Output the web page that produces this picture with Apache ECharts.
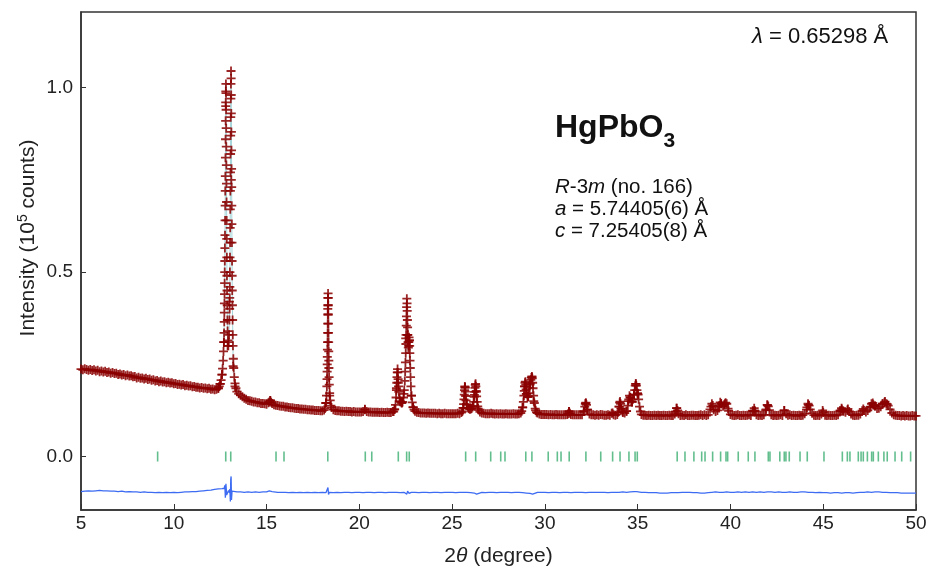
<!DOCTYPE html>
<html><head><meta charset="utf-8">
<script src="https://cdn.jsdelivr.net/npm/echarts@6/dist/echarts.min.js"></script>
<style>html,body{margin:0;padding:0;background:#fff}#c{width:930px;height:572px}</style>
</head><body><div id="c"></div>
<script>
// ---- Observed intensity (10^5 counts) on a 0.1 deg grid from 5.0 to 50.0 ----
const obsStart = 5.0, obsStep = 0.1;
const obsGrid = [
0.237,0.235,0.238,0.236,0.234,0.236,0.233,0.235,0.232,0.234,
0.230,0.232,0.229,0.231,0.228,0.229,0.226,0.228,0.225,0.226,
0.222,0.224,0.221,0.222,0.219,0.221,0.218,0.219,0.216,0.217,
0.213,0.215,0.212,0.213,0.210,0.212,0.209,0.210,0.207,0.208,
0.205,0.206,0.203,0.205,0.202,0.203,0.200,0.201,0.199,0.200,
0.197,0.198,0.195,0.196,0.194,0.195,0.192,0.193,0.191,0.192,
0.189,0.190,0.188,0.188,0.186,0.187,0.185,0.186,0.184,0.185,
0.182,0.183,0.181,0.182,0.185,0.197,0.222,0.310,0.960,0.300,
0.420,0.750,0.245,0.190,0.176,0.170,0.166,0.162,0.158,0.155,
0.152,0.151,0.150,0.148,0.148,0.146,0.146,0.144,0.144,0.143,
0.142,0.146,0.152,0.144,0.140,0.139,0.138,0.137,0.136,0.136,
0.134,0.134,0.133,0.132,0.132,0.131,0.130,0.130,0.129,0.129,
0.128,0.128,0.127,0.127,0.126,0.126,0.125,0.125,0.125,0.124,
0.124,0.126,0.145,0.400,0.165,0.133,0.127,0.125,0.124,0.124,
0.123,0.123,0.122,0.123,0.122,0.122,0.121,0.122,0.121,0.121,
0.121,0.121,0.122,0.127,0.122,0.121,0.121,0.120,0.120,0.120,
0.120,0.119,0.120,0.119,0.119,0.120,0.119,0.119,0.122,0.128,
0.185,0.200,0.150,0.146,0.170,0.320,0.330,0.315,0.165,0.133,
0.123,0.120,0.119,0.118,0.118,0.118,0.117,0.118,0.117,0.117,
0.117,0.117,0.116,0.117,0.116,0.116,0.117,0.116,0.116,0.116,
0.116,0.116,0.116,0.117,0.116,0.119,0.132,0.188,0.140,0.130,
0.129,0.134,0.167,0.175,0.130,0.121,0.118,0.117,0.116,0.116,
0.116,0.117,0.116,0.115,0.116,0.115,0.116,0.115,0.115,0.116,
0.115,0.115,0.115,0.116,0.115,0.115,0.116,0.118,0.133,0.190,
0.170,0.163,0.195,0.215,0.150,0.125,0.118,0.115,0.114,0.114,
0.114,0.114,0.113,0.114,0.113,0.113,0.114,0.113,0.113,0.113,
0.113,0.113,0.114,0.122,0.114,0.113,0.113,0.113,0.113,0.113,
0.113,0.122,0.144,0.127,0.115,0.113,0.113,0.112,0.113,0.112,
0.114,0.113,0.112,0.112,0.113,0.112,0.117,0.113,0.112,0.114,
0.135,0.130,0.120,0.118,0.123,0.150,0.160,0.148,0.168,0.197,
0.170,0.135,0.114,0.112,0.112,0.111,0.112,0.111,0.111,0.112,
0.111,0.112,0.111,0.111,0.112,0.111,0.111,0.112,0.111,0.111,
0.115,0.131,0.116,0.111,0.112,0.111,0.113,0.111,0.111,0.112,
0.112,0.111,0.111,0.112,0.113,0.111,0.113,0.111,0.113,0.128,
0.143,0.127,0.122,0.125,0.138,0.143,0.136,0.143,0.143,0.124,
0.114,0.112,0.111,0.112,0.113,0.111,0.111,0.112,0.111,0.112,
0.113,0.111,0.124,0.125,0.113,0.111,0.112,0.111,0.113,0.125,
0.139,0.126,0.113,0.111,0.112,0.111,0.112,0.113,0.111,0.125,
0.116,0.112,0.113,0.111,0.112,0.111,0.111,0.112,0.111,0.112,
0.116,0.127,0.140,0.128,0.117,0.112,0.111,0.112,0.111,0.115,
0.120,0.112,0.111,0.112,0.111,0.111,0.112,0.111,0.113,0.124,
0.128,0.123,0.120,0.126,0.122,0.115,0.112,0.111,0.112,0.112,
0.115,0.124,0.125,0.121,0.125,0.133,0.143,0.140,0.137,0.130,
0.131,0.135,0.143,0.147,0.143,0.138,0.128,0.118,0.113,0.112,
0.111,0.111,0.110,0.111,0.110,0.111,0.110,0.110,0.111,0.110,
0.110];

// ---- Extra observed points read along the Bragg peaks [2theta, intensity] ----
const obsPeakPoints = [
[12.40,0.185],[12.45,0.190],[12.50,0.197],[12.55,0.207],[12.60,0.222],[12.63,0.238],[12.66,0.260],[12.68,0.285],
[12.70,0.310],[12.71,0.335],[12.72,0.365],[12.725,0.39],[12.73,0.415],[12.735,0.44],[12.74,0.47],[12.745,0.50],
[12.75,0.53],[12.755,0.565],[12.76,0.60],[12.765,0.64],[12.77,0.68],[12.775,0.72],[12.78,0.76],[12.785,0.81],
[12.79,0.86],[12.795,0.91],[12.80,0.95],[12.805,0.99],[12.81,1.01],[12.815,0.985],[12.82,0.94],[12.825,0.89],
[12.83,0.84],[12.835,0.79],[12.84,0.74],[12.845,0.69],[12.85,0.64],[12.855,0.59],[12.86,0.54],[12.865,0.49],
[12.87,0.45],[12.88,0.41],[12.89,0.37],[12.90,0.34],[12.92,0.315],[12.94,0.30],[12.96,0.31],[12.98,0.33],
[13.00,0.37],[13.01,0.40],[13.015,0.43],[13.02,0.46],[13.025,0.50],[13.03,0.54],[13.035,0.58],[13.04,0.62],
[13.045,0.67],[13.05,0.72],[13.055,0.77],[13.06,0.82],[13.065,0.87],[13.07,0.92],[13.075,0.97],[13.08,1.01],
[13.085,1.045],[13.09,1.025],[13.095,0.98],[13.10,0.93],[13.105,0.88],[13.11,0.83],[13.115,0.78],[13.12,0.73],
[13.125,0.68],[13.13,0.63],[13.135,0.58],[13.14,0.53],[13.145,0.49],[13.15,0.45],[13.16,0.41],[13.17,0.37],
[13.18,0.33],[13.19,0.30],[13.21,0.265],[13.23,0.24],[13.26,0.215],[13.30,0.198],[13.35,0.185],
[15.15,0.148],[15.20,0.152],[15.25,0.147],
[18.15,0.130],[18.20,0.145],[18.23,0.165],[18.25,0.19],[18.26,0.21],[18.265,0.23],[18.27,0.25],[18.275,0.27],
[18.28,0.29],[18.285,0.31],[18.29,0.335],[18.295,0.36],[18.30,0.385],[18.305,0.41],[18.31,0.43],[18.315,0.442],
[18.32,0.43],[18.325,0.41],[18.33,0.385],[18.335,0.36],[18.34,0.335],[18.345,0.31],[18.35,0.285],[18.355,0.26],
[18.36,0.24],[18.37,0.215],[18.38,0.195],[18.40,0.172],[18.43,0.152],[18.47,0.138],
[20.30,0.128],
[21.85,0.122],[21.90,0.128],[21.95,0.140],[21.98,0.160],[22.00,0.180],[22.02,0.200],[22.03,0.215],[22.045,0.228],
[22.06,0.237],[22.075,0.228],[22.09,0.21],[22.11,0.19],[22.13,0.175],[22.17,0.158],[22.22,0.148],[22.28,0.145],
[22.33,0.148],[22.38,0.16],[22.42,0.18],[22.45,0.205],[22.47,0.23],[22.485,0.255],[22.50,0.28],[22.51,0.305],
[22.52,0.33],[22.53,0.355],[22.54,0.38],[22.55,0.405],[22.56,0.428],[22.57,0.415],[22.58,0.395],[22.59,0.37],
[22.60,0.35],[22.61,0.33],[22.625,0.31],[22.64,0.295],[22.655,0.30],[22.665,0.31],[22.68,0.323],[22.695,0.315],
[22.71,0.30],[22.72,0.28],[22.73,0.26],[22.745,0.24],[22.76,0.215],[22.78,0.19],[22.81,0.165],[22.85,0.147],
[22.90,0.134],[22.95,0.127],
[25.55,0.122],[25.60,0.132],[25.62,0.142],[25.64,0.155],[25.655,0.168],[25.67,0.18],[25.685,0.19],[25.70,0.186],
[25.715,0.176],[25.73,0.164],[25.75,0.152],[25.78,0.142],[25.85,0.132],[25.95,0.128],[26.05,0.13],[26.12,0.137],
[26.16,0.148],[26.19,0.162],[26.21,0.175],[26.23,0.186],[26.25,0.194],[26.265,0.197],[26.28,0.19],[26.30,0.178],
[26.32,0.163],[26.35,0.148],[26.38,0.136],[26.43,0.126],
[28.75,0.123],[28.80,0.133],[28.84,0.148],[28.87,0.165],[28.89,0.178],[28.91,0.19],[28.93,0.2],[28.95,0.203],
[28.97,0.195],[28.99,0.182],[29.02,0.17],[29.06,0.161],[29.10,0.162],[29.14,0.172],[29.18,0.186],[29.21,0.198],
[29.24,0.208],[29.27,0.214],[29.30,0.217],[29.32,0.212],[29.34,0.2],[29.36,0.185],[29.39,0.165],[29.43,0.145],
[29.48,0.13],[29.55,0.12],
[31.25,0.116],[31.30,0.122],[31.35,0.117],
[32.10,0.122],[32.15,0.135],[32.18,0.143],[32.21,0.146],[32.24,0.14],[32.28,0.127],
[33.65,0.118],
[33.95,0.12],[34.00,0.135],[34.03,0.146],[34.05,0.149],[34.08,0.143],[34.12,0.13],[34.20,0.12],[34.40,0.123],
[34.47,0.138],[34.52,0.155],[34.56,0.165],[34.60,0.16],[34.65,0.15],[34.70,0.148],[34.75,0.155],[34.80,0.168],
[34.84,0.18],[34.87,0.192],[34.90,0.197],[34.93,0.192],[34.96,0.18],[34.99,0.172],[35.02,0.168],[35.05,0.155],
[35.15,0.122],
[37.05,0.122],[37.10,0.131],[37.15,0.125],
[38.95,0.135],[39.05,0.138],[39.38,0.135],[39.45,0.147],[39.50,0.143],[39.66,0.14],[39.74,0.146],[39.87,0.13],
[41.22,0.123],[41.28,0.131],[41.33,0.123],
[41.92,0.128],[41.98,0.14],[42.04,0.136],
[42.90,0.125],
[44.12,0.133],[44.18,0.143],[44.24,0.138],
[44.97,0.125],
[45.93,0.124],[45.99,0.131],[46.06,0.124],[46.33,0.129],
[47.16,0.129],[47.55,0.135],[47.67,0.145],[47.78,0.137],[48.20,0.143],[48.33,0.149],[48.45,0.142]
];

// ---- Difference curve (obs - calc, offset), 0.2 deg grid from 5.0 to 50.0 ----
const diffStart = 5.0, diffStep = 0.2;
const diffGrid = [
-0.095,-0.094,-0.093,-0.094,-0.093, -0.092,-0.093,-0.093,-0.094,-0.094,
-0.095,-0.094,-0.096,-0.095,-0.096, -0.096,-0.097,-0.096,-0.097,-0.097,
-0.098,-0.097,-0.098,-0.097,-0.098, -0.097,-0.098,-0.097,-0.096,-0.096,
-0.095,-0.095,-0.094,-0.093,-0.092, -0.091,-0.089,-0.088,-0.087,-0.092,
-0.098,-0.095,-0.096,-0.096,-0.097, -0.096,-0.097,-0.096,-0.097,-0.096,
-0.096,-0.091,-0.096,-0.097,-0.097, -0.097,-0.098,-0.097,-0.098,-0.097,
-0.098,-0.097,-0.098,-0.097,-0.098, -0.097,-0.098,-0.097,-0.098,-0.097,
-0.098,-0.097,-0.097,-0.098,-0.097, -0.097,-0.098,-0.097,-0.097,-0.098,
-0.097,-0.097,-0.098,-0.097,-0.097, -0.097,-0.098,-0.097,-0.097,-0.097,
-0.097,-0.098,-0.097,-0.097,-0.098, -0.097,-0.097,-0.098,-0.097,-0.097,
-0.097,-0.098,-0.097,-0.097,-0.097, -0.098,-0.099,-0.097,-0.097,-0.098,
-0.097,-0.097,-0.098,-0.097,-0.097, -0.097,-0.098,-0.097,-0.097,-0.098,
-0.099,-0.100,-0.098,-0.097,-0.097, -0.097,-0.098,-0.097,-0.097,-0.098,
-0.097,-0.097,-0.098,-0.097,-0.097, -0.097,-0.098,-0.097,-0.097,-0.097,
-0.097,-0.097,-0.098,-0.097,-0.097, -0.097,-0.096,-0.097,-0.096,-0.095,
-0.096,-0.097,-0.097,-0.098,-0.098, -0.098,-0.099,-0.099,-0.099,-0.098,
-0.098,-0.098,-0.097,-0.097,-0.097, -0.098,-0.098,-0.099,-0.099,-0.098,
-0.097,-0.096,-0.097,-0.097,-0.096, -0.097,-0.097,-0.096,-0.097,-0.096,
-0.097,-0.096,-0.097,-0.096,-0.097, -0.096,-0.096,-0.097,-0.096,-0.097,
-0.097,-0.096,-0.097,-0.097,-0.096, -0.096,-0.097,-0.097,-0.098,-0.097,
-0.098,-0.098,-0.099,-0.098,-0.098, -0.099,-0.098,-0.098,-0.099,-0.098,
-0.097,-0.097,-0.096,-0.097,-0.096, -0.096,-0.097,-0.097,-0.098,-0.098,
-0.098,-0.099,-0.099,-0.099,-0.099, -0.099
];
const diffSpikes = [
[12.72,-0.086],[12.75,-0.078],[12.78,-0.112],[12.81,-0.074],[12.85,-0.104],[12.95,-0.092],[13.02,-0.088],
[13.05,-0.122],[13.07,-0.062],[13.09,-0.054],[13.11,-0.118],[13.14,-0.094],[15.15,-0.093],[15.22,-0.088],
[15.30,-0.095],[18.28,-0.096],[18.31,-0.084],[18.34,-0.103],[18.38,-0.097],[22.50,-0.099],[22.56,-0.102],
[22.60,-0.094],[22.68,-0.100],[26.28,-0.100],[26.32,-0.102],[29.28,-0.101],[29.34,-0.102],[34.90,-0.093],[34.95,-0.095]
];

// ---- Bragg reflection positions (2theta, deg) ----
const braggPositions = [
9.13,12.80,13.07,15.51,15.94,18.30,20.32,20.67,22.10,22.55,22.69,25.73,26.27,27.08,27.62,27.85,
28.97,29.30,30.18,30.67,30.87,31.31,32.21,33.01,33.65,34.05,34.53,34.86,34.98,37.13,37.55,38.03,
38.45,38.63,39.04,39.47,39.76,39.85,40.42,40.96,41.32,42.04,42.13,42.66,42.90,42.99,43.17,43.75,
44.14,45.04,46.03,46.30,46.44,46.89,47.04,47.16,47.38,47.61,47.70,47.97,48.27,48.45,48.87,49.23,49.71
];

const yTickValues = [0, 0.5, 1.0];
const xMin = 5, xMax = 50, xInterval = 5;
const yMin = -0.145, yMax = 1.205;

// ---- build series data ----
const obsData = obsGrid.map((v, i) => [+(obsStart + i * obsStep).toFixed(3), v])
  .concat(obsPeakPoints).sort((a, b) => a[0] - b[0]);
const diffData = diffGrid.map((v, i) => [+(diffStart + i * diffStep).toFixed(3), v])
  .concat(diffSpikes).sort((a, b) => a[0] - b[0]);
const braggData = braggPositions.map(p => [p, 0]);

const FONT = '"Liberation Sans", Arial, sans-serif';
const chart = echarts.init(document.getElementById('c'), null, {renderer: 'canvas'});
chart.setOption({
  animation: false,
  backgroundColor: '#fff',
  grid: {left: 81, right: 14, top: 12, bottom: 59, containLabel: false,
         show: true, borderColor: '#333', borderWidth: 1.5},
  xAxis: {
    type: 'value', min: xMin, max: xMax, interval: xInterval,
    axisLine: {onZero: false, lineStyle: {color: '#333', width: 1.5}},
    axisTick: {inside: true, length: 6, lineStyle: {color: '#333'}},
    splitLine: {show: false},
    axisLabel: {fontFamily: FONT, fontSize: 19, color: '#222', margin: 4},
    name: '{n|2}{i|θ}{n| (degree)}', nameLocation: 'middle', nameGap: 36,
    nameTextStyle: {rich: {
      n: {fontFamily: FONT, fontSize: 21, color: '#222'},
      i: {fontFamily: FONT, fontSize: 21, color: '#222', fontStyle: 'italic'}
    }}
  },
  yAxis: {
    type: 'value', min: yMin, max: yMax,
    axisLine: {onZero: false, lineStyle: {color: '#333', width: 1.5}},
    axisTick: {inside: true, length: 5, customValues: yTickValues, lineStyle: {color: '#333'}},
    splitLine: {show: false},
    axisLabel: {fontFamily: FONT, fontSize: 19, color: '#222', margin: 8,
      customValues: yTickValues, formatter: v => v.toFixed(1)}
  },
  series: [
    {type: 'line', data: obsData, showSymbol: false, z: 1,
     lineStyle: {color: '#a6d6da', width: 1}},
    {type: 'scatter', data: obsData, z: 2,
     symbol: 'path://M4,0H6V4H10V6H6V10H4V6H0V4H4Z', symbolSize: 9,
     itemStyle: {color: '#8b0000', opacity: 0.85}},
    {type: 'scatter', data: braggData, z: 3, symbol: 'rect', symbolSize: [1.6, 10],
     itemStyle: {color: '#3cae72'}},
    {type: 'line', data: diffData, showSymbol: false, z: 3,
     lineStyle: {color: '#3d6cf2', width: 1.3}}
  ],
  graphic: [
    {type: 'text', x: 28, y: 238, rotation: Math.PI / 2,
     style: {text: '{m|Intensity (10}{s|5}{m| counts)}', align: 'center', verticalAlign: 'middle',
       rich: {m: {fontFamily: FONT, fontSize: 21, fill: '#222', lineHeight: 24},
              s: {fontFamily: FONT, fontSize: 14, fill: '#222', verticalAlign: 'top', lineHeight: 24}}}},
    {type: 'text', x: 752, y: 37,
     style: {text: '{i|λ}{m| = 0.65298 Å}', verticalAlign: 'middle',
       rich: {i: {fontFamily: FONT, fontSize: 22, fill: '#111', fontStyle: 'italic'},
              m: {fontFamily: FONT, fontSize: 22, fill: '#111'}}}},
    {type: 'text', x: 555, y: 128,
     style: {text: '{b|HgPbO}{s|3}', verticalAlign: 'middle',
       rich: {b: {fontFamily: FONT, fontSize: 32, fontWeight: 'bold', fill: '#111', lineHeight: 40},
              s: {fontFamily: FONT, fontSize: 21, fontWeight: 'bold', fill: '#111', lineHeight: 48, verticalAlign: 'bottom'}}}},
    {type: 'text', x: 555, y: 187,
     style: {text: '{i|R}{m|-3}{i|m}{m| (no. 166)}', verticalAlign: 'middle',
       rich: {i: {fontFamily: FONT, fontSize: 20.5, fill: '#111', fontStyle: 'italic'},
              m: {fontFamily: FONT, fontSize: 20.5, fill: '#111'}}}},
    {type: 'text', x: 555, y: 209,
     style: {text: '{i|a}{m| = 5.74405(6) Å}', verticalAlign: 'middle',
       rich: {i: {fontFamily: FONT, fontSize: 20.5, fill: '#111', fontStyle: 'italic'},
              m: {fontFamily: FONT, fontSize: 20.5, fill: '#111'}}}},
    {type: 'text', x: 555, y: 231,
     style: {text: '{i|c}{m| = 7.25405(8) Å}', verticalAlign: 'middle',
       rich: {i: {fontFamily: FONT, fontSize: 20.5, fill: '#111', fontStyle: 'italic'},
              m: {fontFamily: FONT, fontSize: 20.5, fill: '#111'}}}}
  ]
});
</script></body></html>
